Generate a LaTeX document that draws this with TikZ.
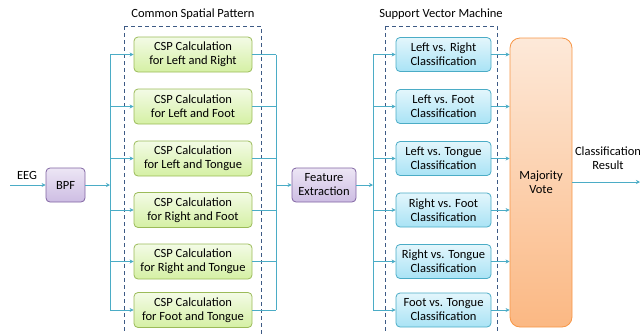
\documentclass[tikz,border=0pt]{standalone}
\usepackage{fontspec}
\setmainfont{Carlito}
\usetikzlibrary{arrows.meta,positioning}
\definecolor{wire}{HTML}{4BACC6}
\definecolor{frame}{HTML}{3D5A85}
\definecolor{grnB}{HTML}{9BBB59}
\definecolor{grnT}{HTML}{F3FBE6}
\definecolor{grnD}{HTML}{D5F0A4}
\definecolor{bluB}{HTML}{4BACC6}
\definecolor{bluT}{HTML}{E3F6FC}
\definecolor{bluD}{HTML}{A9E3F5}
\definecolor{purB}{HTML}{8064A2}
\definecolor{purT}{HTML}{EDE6F5}
\definecolor{purD}{HTML}{CDBDE3}
\definecolor{orgB}{HTML}{F79646}
\definecolor{orgT}{HTML}{FDE9D9}
\definecolor{orgD}{HTML}{FBB883}
\tikzset{
  box/.style={rounded corners=4pt, line width=0.8pt, align=center, inner sep=0pt,
    font=\fontsize{12.5}{14}\selectfont, text=black},
  cspbox/.style={box, draw=grnB, top color=grnT, bottom color=grnD,
    minimum width=118pt, minimum height=35pt},
  svmbox/.style={box, draw=bluB, top color=bluT, bottom color=bluD,
    minimum width=95pt, minimum height=34pt},
  purbox/.style={box, draw=purB, top color=purT, bottom color=purD,
    minimum height=34pt},
  wire/.style={draw=wire, line width=0.9pt},
  arr/.style={wire, -{Stealth[length=4pt,width=4pt]}},
  group/.style={draw=frame, line width=0.9pt, dash pattern=on 4pt off 3pt},
  lbl/.style={font=\fontsize{12.5}{14}\selectfont, text=black, align=center}
}
\begin{document}
\begin{tikzpicture}[x=1pt,y=-1pt]
\useasboundingbox (0,0) rectangle (640,333);

% dashed group frames
\draw[group] (124,26) -- (124,340) (124,26) -- (261,26) -- (261,340);
\draw[group] (385,26) -- (385,340) (385,26) -- (497,26) -- (497,340);
\node[lbl] (csptitle) at (193,14) {Common Spatial Pattern};
\node[lbl] (svmtitle) at (441,14) {Support Vector Machine};

% input stage
\coordinate (in) at (10,185);
\node[lbl] (eeg) at (27,175) {EEG};
\node[purbox, minimum width=39pt] (bpf) at (65.5,185) {BPF};

% CSP calculations
\node[cspbox] (c1) at (193,54.5) {CSP Calculation\\for Left and Right};
\node[cspbox] (c2) at (193,106.5) {CSP Calculation\\for Left and Foot};
\node[cspbox] (c3) at (193,158.5) {CSP Calculation\\for Left and Tongue};
\node[cspbox] (c4) at (193,210) {CSP Calculation\\for Right and Foot};
\node[cspbox] (c5) at (193,261.5) {CSP Calculation\\for Right and Tongue};
\node[cspbox] (c6) at (193,310) {CSP Calculation\\for Foot and Tongue};

\node[purbox, minimum width=64pt] (fe) at (324,185) {Feature\\Extraction};

% SVM classifiers
\node[svmbox] (s1) at (443.5,54.5) {Left vs. Right\\Classification};
\node[svmbox] (s2) at (443.5,106.5) {Left vs. Foot\\Classification};
\node[svmbox] (s3) at (443.5,158.5) {Left vs. Tongue\\Classification};
\node[svmbox] (s4) at (443.5,210) {Right vs. Foot\\Classification};
\node[svmbox] (s5) at (443.5,261.5) {Right vs. Tongue\\Classification};
\node[svmbox] (s6) at (443.5,310) {Foot vs. Tongue\\Classification};

\node[box, rounded corners=10pt, draw=orgB, top color=orgT, bottom color=orgD,
  minimum width=62pt, minimum height=289pt] (mv) at (541,182.5) {Majority\\Vote};

\coordinate (out) at (640,182);
\node[lbl] (res) at (608,158) {Classification\\Result};

% bus coordinates
\coordinate (busA) at (110,185);
\coordinate (busB) at (276,185);
\coordinate (busC) at (373,185);

\draw[arr] (in) -- (bpf.west);
\draw[arr] (bpf.east) -- (busA);
\draw[wire] (busA |- c1.west) -- (busA |- c6.west);
\foreach \i in {1,...,6} {
  \draw[arr] (busA |- c\i.west) -- (c\i.west);
  \draw[wire] (c\i.east) -- (busB |- c\i.east);
}
\draw[wire] (busB |- c1.east) -- (busB |- c6.east);
\draw[arr] (busB) -- (fe.west);
\draw[arr] (fe.east) -- (busC);
\draw[wire] (busC |- s1.west) -- (busC |- s6.west);
\foreach \i in {1,...,6} {
  \draw[arr] (busC |- s\i.west) -- (s\i.west);
  \draw[arr] (s\i.east) -- (mv.west |- s\i.east);
}
\draw[arr] (mv.east |- out) -- (out);
\end{tikzpicture}
\end{document}
